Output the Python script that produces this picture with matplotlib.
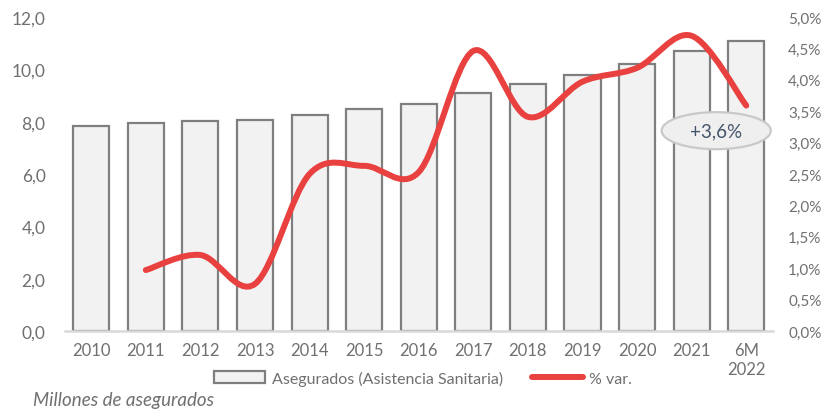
import numpy as np
import matplotlib.pyplot as plt
from matplotlib.path import Path
from matplotlib.patches import PathPatch, Patch, Ellipse
from matplotlib.lines import Line2D
from matplotlib.ticker import FuncFormatter

years = ['2010', '2011', '2012', '2013', '2014', '2015', '2016',
         '2017', '2018', '2019', '2020', '2021', '6M\n2022']
asegurados = [7.83, 7.93, 8.02, 8.06, 8.25, 8.50, 8.69,
              9.09, 9.44, 9.78, 10.22, 10.70, 11.08]
# % var. starts in 2011
var_years = list(range(1, 13))
var_pct = [0.97, 1.21, 0.75, 2.50, 2.63, 2.53, 4.46, 3.41, 3.97, 4.19, 4.70, 3.59]

plt.rcParams['font.family'] = ['Lato', 'DejaVu Sans']
grey = '#707070'

fig = plt.figure(figsize=(8.25, 4.10), dpi=100)
ax = fig.add_axes([65/825, 78/410, 708/825, 314/410])
x = np.arange(len(years))
ax.bar(x, asegurados, width=0.66, color='#f2f2f2', edgecolor='#7f7f7f', linewidth=1.6, zorder=2)
ax.set_xlim(-0.48, 12.49)
ax.set_ylim(0, 12)
ax.set_yticks(np.arange(0, 12.1, 2))
ax.yaxis.set_major_formatter(FuncFormatter(lambda v, p: f'{v:.1f}'.replace('.', ',')))
ax.set_xticks(x)
ax.set_xticklabels(years)
for s in ['top', 'right', 'left']:
    ax.spines[s].set_visible(False)
ax.spines['bottom'].set_color('#d9d9d9')
ax.spines['bottom'].set_linewidth(1.8)
ax.spines['bottom'].set_zorder(3)
ax.tick_params(axis='y', length=0, pad=14, labelsize=12.5, labelcolor=grey)
ax.tick_params(axis='x', length=0, pad=8, labelsize=12, labelcolor=grey)
for t in ax.get_xticklabels():
    t.set_linespacing(1.25)

ax2 = ax.twinx()
ax2.set_ylim(0, 5)
ax2.set_yticks(np.arange(0, 5.01, 0.5))
ax2.yaxis.set_major_formatter(FuncFormatter(lambda v, p: f'{v:.1f}%'.replace('.', ',')))
ax2.tick_params(axis='y', length=0, pad=11, labelsize=11, labelcolor=grey)
for s in ax2.spines.values():
    s.set_visible(False)

# smoothed line (Catmull-Rom -> bezier), like Excel's smoothed line
px = np.array(var_years, dtype=float)
py = np.array(var_pct)
verts = [(px[0], py[0])]
codes = [Path.MOVETO]
n = len(px)
for i in range(n - 1):
    p0 = (px[max(i - 1, 0)], py[max(i - 1, 0)])
    p1 = (px[i], py[i])
    p2 = (px[i + 1], py[i + 1])
    p3 = (px[min(i + 2, n - 1)], py[min(i + 2, n - 1)])
    c1 = (p1[0] + (p2[0] - p0[0]) / 6, p1[1] + (p2[1] - p0[1]) / 6)
    c2 = (p2[0] - (p3[0] - p1[0]) / 6, p2[1] - (p3[1] - p1[1]) / 6)
    verts += [c1, c2, p2]
    codes += [Path.CURVE4] * 3
ax2.add_patch(PathPatch(Path(verts, codes), facecolor='none', edgecolor='#e8413f',
                        linewidth=4.3, capstyle='round', joinstyle='round', zorder=4))

# callout
ax2.add_patch(Ellipse((11.45, 3.19), 2.0, 0.59, facecolor='#efefef',
                      edgecolor='#c9c9c9', linewidth=1.6, zorder=5))
ax2.text(11.45, 3.19, '+3,6%', ha='center', va='center', fontsize=13.5,
         color='#44546a', zorder=6)

handles = [Patch(facecolor='#f2f2f2', edgecolor='#7f7f7f', linewidth=1.6),
           Line2D([0], [0], color='#e8413f', linewidth=4.3, solid_capstyle='round')]
leg = fig.legend(handles, ['Asegurados (Asistencia Sanitaria)', '% var.'], ncol=2,
                 loc='center', bbox_to_anchor=(423/825, 1 - 379/410), frameon=False,
                 fontsize=11.5, handlelength=3.2, handleheight=0.8, columnspacing=1.8,
                 handletextpad=0.4)
for t in leg.get_texts():
    t.set_color(grey)

fig.text(33/825, 1 - 401/410, 'Millones de asegurados', fontsize=13.5, style='italic',
         color=grey, va='center', ha='left')

fig.savefig('out.png', dpi=100)
